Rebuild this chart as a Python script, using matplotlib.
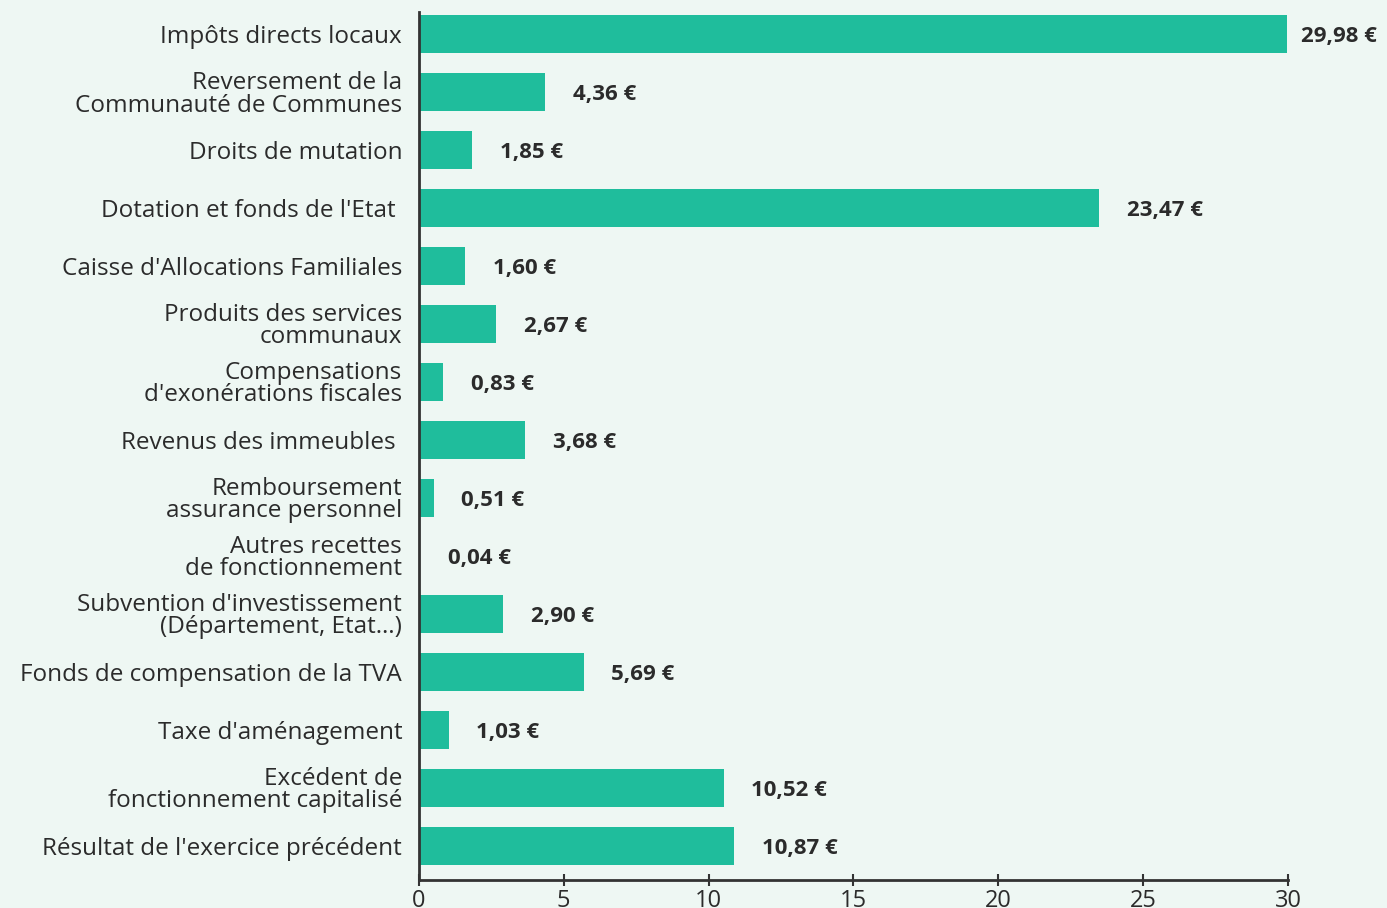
import matplotlib
matplotlib.use('Agg')
import matplotlib.pyplot as plt

categories = [
    "Impôts directs locaux",
    "Reversement de la\nCommunauté de Communes",
    "Droits de mutation",
    "Dotation et fonds de l'Etat ",
    "Caisse d'Allocations Familiales",
    "Produits des services\ncommunaux",
    "Compensations\nd'exonérations fiscales",
    "Revenus des immeubles ",
    "Remboursement\nassurance personnel",
    "Autres recettes\nde fonctionnement",
    "Subvention d'investissement\n(Département, Etat…)",
    "Fonds de compensation de la TVA",
    "Taxe d'aménagement",
    "Excédent de\nfonctionnement capitalisé",
    "Résultat de l'exercice précédent",
]
values = [29.98, 4.36, 1.85, 23.47, 1.60, 2.67, 0.83, 3.68, 0.51, 0.04, 2.90, 5.69, 1.03, 10.52, 10.87]
x_ticks = [0, 5, 10, 15, 20, 25, 30]

bg = '#eef7f3'
bar_color = '#1fbd9c'
text_color = '#2b2b2b'

plt.rcParams['font.family'] = ['Open Sans', 'DejaVu Sans']

fig = plt.figure(figsize=(13.87, 9.08), dpi=100, facecolor=bg)
ax = fig.add_axes([0.302, 0.031, 0.6266, 0.9558])
ax.set_facecolor(bg)

pos = list(range(len(values)))
ax.barh(pos, values, height=0.655, color=bar_color)
ax.set_ylim(len(values) - 0.41, -0.38)
ax.set_xlim(0, 30)

for i, v in enumerate(values):
    txt = f"{v:.2f}".replace('.', ',') + " €"
    off = 10 if v > 29 else 20
    ax.annotate(txt, (v, i), xytext=(off, -2), textcoords='offset points',
                va='center', ha='left', fontsize=16, fontweight='bold',
                color=text_color, annotation_clip=False)

ax.set_yticks(pos)
ax.set_yticklabels(categories, fontsize=17.5, color=text_color, linespacing=0.92)
ax.tick_params(axis='y', length=0, pad=12)
ax.set_xticks(x_ticks)
ax.tick_params(axis='x', direction='inout', length=9, width=1.5, color='#333333',
               labelsize=17, labelcolor=text_color, pad=2)

for s in ['top', 'right']:
    ax.spines[s].set_visible(False)
for s in ['left', 'bottom']:
    ax.spines[s].set_linewidth(2)
    ax.spines[s].set_color('#333333')

fig.savefig('out.png', dpi=100, facecolor=bg)
